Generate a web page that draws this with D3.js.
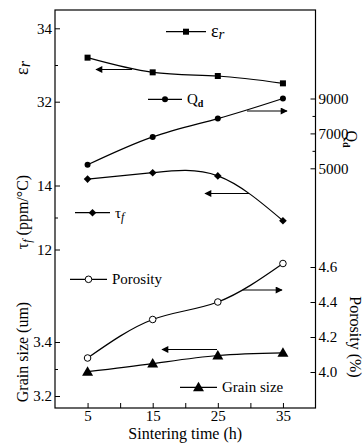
<!DOCTYPE html>
<html>
<head>
<meta charset="utf-8">
<script src="https://cdn.jsdelivr.net/npm/d3@7"></script>
<style>
  body { margin: 0; background: #fff; }
  svg text { font-family: "Liberation Serif", "Times New Roman", serif; fill: #000; }
  .axis path.domain { display: none; }
  .axis line { stroke: #000; stroke-width: 1; }
  .axis text { font-size: 15px; }
</style>
</head>
<body>
<div id="chart"></div>
<script>
// Data
var time = [5, 15, 25, 35];
var epsR = [33.2, 32.8, 32.7, 32.5];
var qd = [5200, 6800, 7850, 9000];
var tauF = [14.2, 14.4, 14.3, 12.9];
var porosity = [4.08, 4.30, 4.40, 4.62];
var grain = [3.29, 3.32, 3.35, 3.36];

// tick labels
var xTicks = [5, 15, 25, 35];
var xMinor = [10, 20, 30];
var epsTicks = [32, 34];
var epsMinor = [33];
var tauTicks = [12, 14];
var tauMinor = [13];
var grainTicks = [3.2, 3.4];
var grainMinor = [3.3];
var qdTicks = [5000, 7000, 9000];
var qdMinor = [6000, 8000];
var porTicks = [4.0, 4.2, 4.4, 4.6];

var svgWidth = 363;
var svgHeight = 445;
var plot = { left: 55, right: 315.5, top: 10, bottom: 408 };

var svg = d3.select("#chart")
    .append("svg")
    .attr("width", svgWidth)
    .attr("height", svgHeight);

var defs = svg.append("defs");
defs.append("marker")
    .attr("id", "head")
    .attr("viewBox", "0 0 10 10")
    .attr("refX", 9)
    .attr("refY", 5)
    .attr("markerWidth", 9)
    .attr("markerHeight", 7)
    .attr("markerUnits", "userSpaceOnUse")
    .attr("orient", "auto")
    .append("path")
    .attr("d", "M0,0 L10,5 L0,10 Z")
    .attr("fill", "#000");

// Scales
var x = d3.scaleLinear().domain([0, 40]).range([plot.left, plot.right]);
var yEps = d3.scaleLinear().domain([32, 34]).range([101.7, 28.3]);
var yTau = d3.scaleLinear().domain([12, 14]).range([249.5, 185.5]);
var yGrain = d3.scaleLinear().domain([3.2, 3.4]).range([396, 342]);
var yQd = d3.scaleLinear().domain([5000, 9000]).range([168.3, 98.5]);
var yPor = d3.scaleLinear().domain([4.0, 4.6]).range([372, 267]);

// Frame
svg.append("rect")
    .attr("x", plot.left)
    .attr("y", plot.top)
    .attr("width", plot.right - plot.left)
    .attr("height", plot.bottom - plot.top)
    .attr("fill", "none")
    .attr("stroke", "#000")
    .attr("stroke-width", 1.2);

// minor ticks carry no label, so drop their empty text nodes
function minorTicks(g) {
    g.selectAll("text").remove();
}

function leftAxis(scale, ticks, minor, fmt) {
    svg.append("g").attr("class", "axis")
        .attr("transform", "translate(" + plot.left + ",0)")
        .call(d3.axisLeft(scale).tickValues(ticks).tickSize(-5).tickPadding(3).tickFormat(fmt));
    svg.append("g").attr("class", "axis")
        .attr("transform", "translate(" + plot.left + ",0)")
        .call(d3.axisLeft(scale).tickValues(minor).tickSize(-3))
        .call(minorTicks);
}
function rightAxis(scale, ticks, minor, fmt) {
    svg.append("g").attr("class", "axis")
        .attr("transform", "translate(" + plot.right + ",0)")
        .call(d3.axisRight(scale).tickValues(ticks).tickSize(-5).tickPadding(3).tickFormat(fmt));
    if (minor.length) {
        svg.append("g").attr("class", "axis")
            .attr("transform", "translate(" + plot.right + ",0)")
            .call(d3.axisRight(scale).tickValues(minor).tickSize(-3))
            .call(minorTicks);
    }
}

leftAxis(yEps, epsTicks, epsMinor, d3.format("d"));
leftAxis(yTau, tauTicks, tauMinor, d3.format("d"));
leftAxis(yGrain, grainTicks, grainMinor, d3.format(".1f"));
rightAxis(yQd, qdTicks, qdMinor, d3.format("d"));
rightAxis(yPor, porTicks, [], d3.format(".1f"));

// X axis
svg.append("g").attr("class", "axis")
    .attr("transform", "translate(0," + plot.bottom + ")")
    .call(d3.axisBottom(x).tickValues(xTicks).tickSize(-5).tickPadding(2).tickFormat(d3.format("d")));
svg.append("g").attr("class", "axis")
    .attr("transform", "translate(0," + plot.bottom + ")")
    .call(d3.axisBottom(x).tickValues(xMinor).tickSize(-5))
    .call(minorTicks);

svg.append("text")
    .attr("x", (plot.left + plot.right) / 2)
    .attr("y", 439)
    .attr("text-anchor", "middle")
    .attr("font-size", 16)
    .text("Sintering time (h)");

// Axis titles, left (rotated up)
function leftTitle(cy, build) {
    var t = svg.append("text")
        .attr("transform", "translate(28," + cy + ")rotate(-90)")
        .attr("text-anchor", "middle")
        .attr("font-size", 16);
    build(t);
}
leftTitle(68, function (t) {
    t.append("tspan").attr("font-size", 18).text("ε");
    t.append("tspan").attr("font-style", "italic").attr("dy", 2).text("r");
});
leftTitle(212, function (t) {
    t.append("tspan").text("τ");
    t.append("tspan").attr("font-style", "italic").attr("font-size", 12).attr("dy", 3).text("f");
    t.append("tspan").attr("dy", -3).text("\u00a0(ppm/°C)");
});
leftTitle(352, function (t) {
    t.text("Grain size (um)");
});

// Axis titles, right (rotated down)
var qdTitle = svg.append("text")
    .attr("transform", "translate(346,139)rotate(90)")
    .attr("text-anchor", "middle")
    .attr("font-size", 16);
qdTitle.append("tspan").text("Q");
qdTitle.append("tspan").attr("font-size", 10).attr("font-weight", "bold").attr("dy", 3).text("d");

svg.append("text")
    .attr("transform", "translate(350,337)rotate(90)")
    .attr("text-anchor", "middle")
    .attr("font-size", 16)
    .text("Porosity (%)");

// Series
function drawLine(values, yScale) {
    var line = d3.line()
        .x(function (d, i) { return x(time[i]); })
        .y(function (d) { return yScale(d); })
        .curve(d3.curveNatural);
    svg.append("path")
        .datum(values)
        .attr("d", line)
        .attr("fill", "none")
        .attr("stroke", "#000")
        .attr("stroke-width", 1.2);
}

function marker(g, type, cx, cy) {
    if (type === "square") {
        g.append("rect").attr("x", cx - 3).attr("y", cy - 3).attr("width", 6).attr("height", 6).attr("fill", "#000");
    } else if (type === "dot") {
        g.append("circle").attr("cx", cx).attr("cy", cy).attr("r", 3).attr("fill", "#000");
    } else if (type === "diamond") {
        g.append("path").attr("d", "M" + cx + "," + (cy - 3.8) + "L" + (cx + 3.8) + "," + cy + "L" + cx + "," + (cy + 3.8) + "L" + (cx - 3.8) + "," + cy + "Z").attr("fill", "#000");
    } else if (type === "open") {
        g.append("circle").attr("cx", cx).attr("cy", cy).attr("r", 3.3).attr("fill", "#fff").attr("stroke", "#000").attr("stroke-width", 1);
    } else if (type === "triangle") {
        g.append("path").attr("d", "M" + cx + "," + (cy - 5.5) + "L" + (cx + 5.5) + "," + (cy + 4) + "L" + (cx - 5.5) + "," + (cy + 4) + "Z").attr("fill", "#000");
    }
}

function drawSeries(values, yScale, type) {
    drawLine(values, yScale);
    var g = svg.append("g");
    values.forEach(function (d, i) {
        marker(g, type, x(time[i]), yScale(d));
    });
}

drawSeries(epsR, yEps, "square");
drawSeries(qd, yQd, "dot");
drawSeries(tauF, yTau, "diamond");
drawSeries(porosity, yPor, "open");
drawSeries(grain, yGrain, "triangle");

// Arrows pointing to the axis each curve belongs to
function arrow(x1, x2, y) {
    svg.append("line")
        .attr("x1", x1).attr("y1", y)
        .attr("x2", x2).attr("y2", y)
        .attr("stroke", "#000")
        .attr("stroke-width", 1.2)
        .attr("marker-end", "url(#head)");
}
arrow(132, 96, 69.5);
arrow(247, 287, 111);
arrow(249, 205, 193.5);
arrow(243, 282, 290);
arrow(217, 162, 349.5);

// Legends
function legend(x1, x2, y, type, build) {
    svg.append("line")
        .attr("x1", x1).attr("y1", y)
        .attr("x2", x2).attr("y2", y)
        .attr("stroke", "#000")
        .attr("stroke-width", 1.2);
    var g = svg.append("g");
    marker(g, type, (x1 + x2) / 2, y);
    var t = svg.append("text")
        .attr("x", x2 + 5)
        .attr("y", y + 5)
        .attr("font-size", 15);
    build(t);
}
legend(166, 206, 31.7, "square", function (t) {
    t.append("tspan").attr("font-size", 18).text("ε");
    t.append("tspan").attr("font-style", "italic").attr("dy", 2).text("r");
});
legend(148, 182, 99.3, "dot", function (t) {
    t.append("tspan").text("Q");
    t.append("tspan").attr("font-size", 10).attr("font-weight", "bold").attr("dy", 3).text("d");
});
legend(75, 110, 212.7, "diamond", function (t) {
    t.append("tspan").text("τ");
    t.append("tspan").attr("font-style", "italic").attr("font-size", 12).attr("dy", 3).text("f");
});
legend(70, 107, 279.3, "open", function (t) {
    t.text("Porosity");
});
legend(180, 217, 387.3, "triangle", function (t) {
    t.text("Grain size");
});
</script>
</body>
</html>
